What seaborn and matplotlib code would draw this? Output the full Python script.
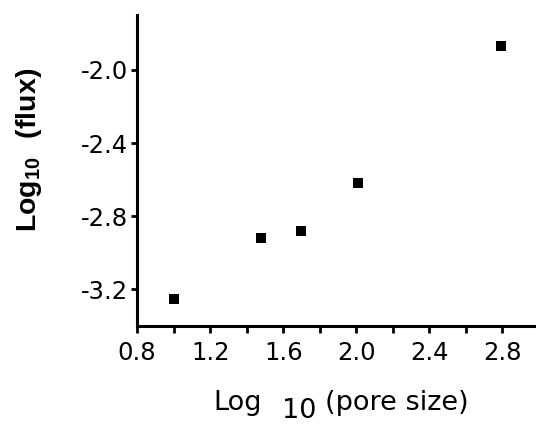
import matplotlib
matplotlib.use("Agg")
import matplotlib.pyplot as plt
import seaborn as sns
import pandas as pd

log_pore_size = [1.0, 1.48, 1.70, 2.01, 2.79]
log_flux = [-3.25, -2.92, -2.88, -2.62, -1.87]
x_ticks = [0.8, 1.2, 1.6, 2.0, 2.4, 2.8]
x_minor = [1.0, 1.4, 1.8, 2.2, 2.6]
y_ticks = [-3.2, -2.8, -2.4, -2.0]

sns.set_theme(style="ticks")
plt.rcParams['font.family'] = ['DejaVu Sans']
plt.rcParams['text.color'] = 'black'
plt.rcParams['mathtext.fontset'] = 'custom'
plt.rcParams['mathtext.rm'] = 'Liberation Sans'
plt.rcParams['mathtext.bf'] = 'Liberation Sans:bold'

df = pd.DataFrame({"x": log_pore_size, "y": log_flux})

fig = plt.figure(figsize=(5.36, 4.25), dpi=100)
W, H = 536, 425
left, right, top, bottom = 137, 539, 15, 326
ax = fig.add_axes([left / W, 1 - bottom / H, (right - left) / W, (bottom - top) / H])

sns.scatterplot(data=df, x="x", y="y", marker="s", color="black", s=42,
                edgecolor="black", linewidth=0, ax=ax, clip_on=False)

ax.set_xlim(0.8, 3.0)
ax.set_ylim(-3.4, -1.7)
ax.set_xticks(x_ticks)
ax.set_xticklabels([f"{v:.1f}" for v in x_ticks])
ax.set_xticks(x_minor, minor=True)
ax.set_yticks(y_ticks)
ax.set_yticklabels([f"{v:.1f}" for v in y_ticks])

for s in ["top", "right"]:
    ax.spines[s].set_visible(False)
for s in ["left", "bottom"]:
    ax.spines[s].set_linewidth(2.2)
    ax.spines[s].set_color("black")

ax.tick_params(axis="x", which="major", length=5, width=2, pad=6, labelsize=17.5,
               color="black", labelcolor="black")
ax.tick_params(axis="x", which="minor", length=5, width=2, color="black")
ax.tick_params(axis="y", which="major", length=4, width=2, pad=2.5, labelsize=17.5,
               color="black", labelcolor="black")
ax.set_xlabel("")
ax.set_ylabel("")

# y label (bold, with subscript)
fig.text(29 / W, 1 - 150 / H, r"$\mathbf{Log_{10}\ \ (flux)}$", rotation=90,
         ha="center", va="center", fontsize=20.5)

# x label pieces
fig.text(213 / W, 1 - 409.5 / H, "Log", ha="left", va="baseline", fontsize=19.5)
fig.text(282 / W, 1 - 418 / H, "10", ha="left", va="baseline", fontsize=19.5)
fig.text(325 / W, 1 - 409.5 / H, "(pore size)", ha="left", va="baseline", fontsize=19.5)

fig.savefig("out.png", dpi=100)
